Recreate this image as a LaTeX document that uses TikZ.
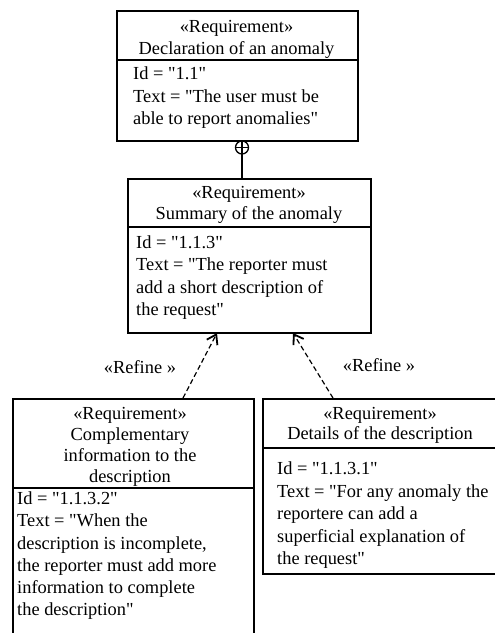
\documentclass[tikz,border=0pt]{standalone}
\usepackage{fontspec}
\setmainfont{Liberation Serif}[Ligatures=TeXOff]
\usetikzlibrary{arrows.meta}
\newcommand\txtfont{\fontsize{18.4}{22.5}\selectfont}
\tikzset{
  box/.style={draw, line width=1.6pt, inner sep=0pt, anchor=north west},
  divider/.style={line width=1.3pt},
  header/.style={anchor=north, align=center, inner sep=0pt, font=\fontsize{18.4}{21.5}\selectfont},
  attrs/.style={anchor=north west, align=left, inner sep=0pt, font=\txtfont},
  refine/.style={dashed, dash pattern=on 5pt off 3pt, line width=1.2pt,
    -{Straight Barb[length=9pt,width=12pt,line width=1.8pt]}},
  lbl/.style={inner sep=0pt, font=\txtfont},
}
\begin{document}
\begin{tikzpicture}[x=1pt,y=-1pt]
\clip (0,0) rectangle (495,633);
\fill[white] (0,0) rectangle (495,633);
% boxes
\node[box, minimum width=241pt, minimum height=130pt] (req1) at (116,10) {};
\node[box, minimum width=243pt, minimum height=154pt] (req2) at (127,178) {};
\node[box, minimum width=241pt, minimum height=260pt] (req3) at (12,398) {};
\node[box, minimum width=245pt, minimum height=175pt] (req4) at (262,398) {};
% dividers
\draw[divider] (req1.west |- 0,60) -- (req1.east |- 0,60);
\draw[divider] (req2.west |- 0,227) -- (req2.east |- 0,227);
\draw[divider] (req3.west |- 0,488) -- (req3.east |- 0,488);
\draw[divider] (req4.west |- 0,448) -- (req4.east |- 0,448);
% texts
\node[header] (h1) at (236.5,20.5) {«Requirement»\\Declaration of an anomaly};
\node[attrs] (a1) at (133,67) {Id = "1.1"\\Text = "The user must be\\able to report anomalies"};
\node[header, font=\fontsize{18.4}{21}\selectfont] (h2) at (249,186) {«Requirement»\\Summary of the anomaly};
\node[attrs] (a2) at (136,235.5) {Id = "1.1.3"\\Text = "The reporter must\\add a short description of\\the request"};
\node[header, font=\fontsize{18.4}{20.8}\selectfont] (h3) at (130,407.5) {«Requirement»\\Complementary\\information to the\\description};
\node[attrs, font=\fontsize{18.4}{22.3}\selectfont] (a3) at (17,491.5) {Id = "1.1.3.2"\\Text = "When the\\description is incomplete,\\the reporter must add more\\information to complete\\the description"};
\node[header, font=\fontsize{18.4}{19.5}\selectfont] (h4) at (380,407.5) {«Requirement»\\Details of the description};
\node[attrs] (a4) at (277,462) {Id = "1.1.3.1"\\Text = "For any anomaly the\\reportere can add a\\superficial explanation of\\the request"};
% containment
\node[draw, circle, line width=1.3pt, minimum size=13pt, inner sep=0pt] (cp) at (242,147.5) {};
\draw[line width=1.1pt] (cp.north) -- (cp.south) (cp.west) -- (cp.east);
\draw[line width=1.6pt] (cp.south) -- (req2.north -| cp.south);
% refine connectors
\coordinate (s3) at (183,398);
\coordinate (t3) at (217,333);
\coordinate (s4) at (333,398);
\coordinate (t4) at (293,333);
\draw[refine] (s3) -- (t3);
\draw[refine] (s4) -- (t4);
\node[lbl] (l3) at (140,367) {«Refine »};
\node[lbl] (l4) at (379,365) {«Refine »};
\end{tikzpicture}
\end{document}
